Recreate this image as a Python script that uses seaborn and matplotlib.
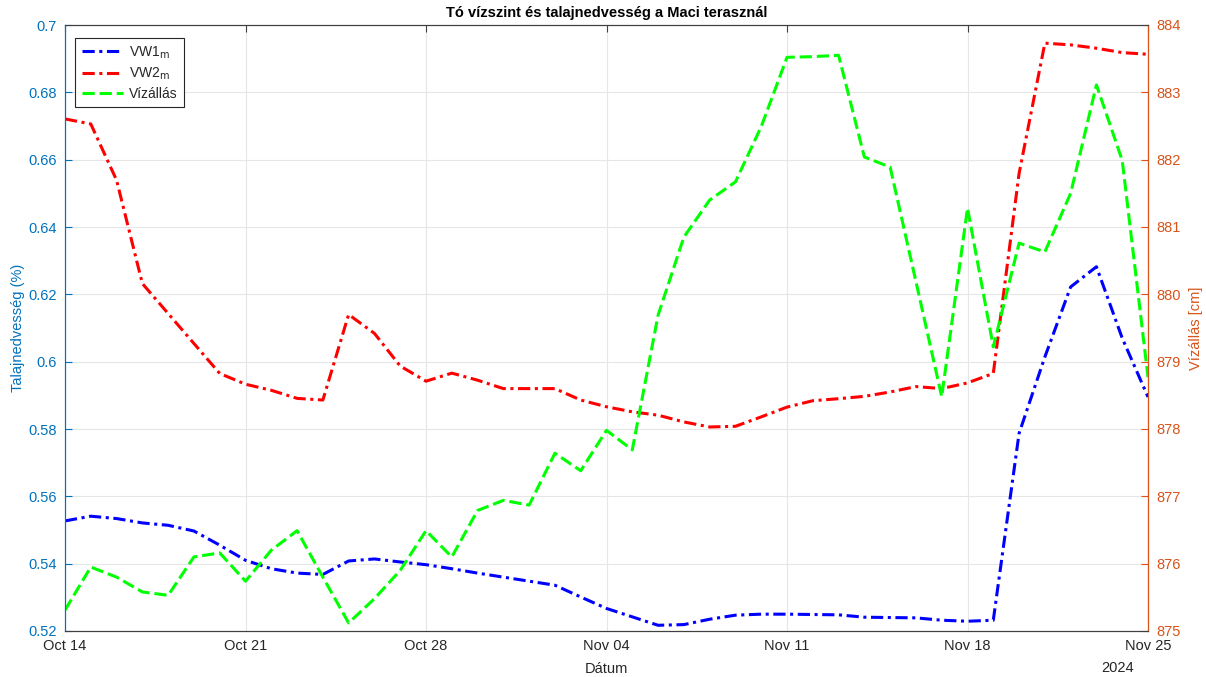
import numpy as np
import pandas as pd
import matplotlib
matplotlib.use("Agg")
import matplotlib.pyplot as plt
import matplotlib.dates as mdates
import seaborn as sns

# ---- data ----
start_date = "2024-10-14"
n_days = 43
vw1_m = [0.5527, 0.5541, 0.5534, 0.5521, 0.5514, 0.5497, 0.5455, 0.5410, 0.5385, 0.5372,
         0.5368, 0.5408, 0.5414, 0.5405, 0.5397, 0.5385, 0.5372, 0.5360, 0.5348, 0.5336,
         0.5301, 0.5267, 0.5242, 0.5217, 0.5219, 0.5235, 0.5247, 0.5250, 0.5250, 0.5249,
         0.5248, 0.5241, 0.5240, 0.5239, 0.5232, 0.5229, 0.5232, 0.5787, 0.6014, 0.6222,
         0.6282, 0.6070, 0.5895]
vw2_m = [0.6721, 0.6706, 0.6539, 0.6232, 0.6143, 0.6054, 0.5965, 0.5933, 0.5915, 0.5891,
         0.5886, 0.6140, 0.6084, 0.5987, 0.5942, 0.5966, 0.5945, 0.5920, 0.5920, 0.5920,
         0.5886, 0.5866, 0.5851, 0.5841, 0.5821, 0.5806, 0.5808, 0.5836, 0.5865, 0.5884,
         0.5890, 0.5897, 0.5910, 0.5926, 0.5920, 0.5937, 0.5965, 0.6559, 0.6946, 0.6941,
         0.6931, 0.6918, 0.6913]
vizallas = [875.31, 875.95, 875.80, 875.58, 875.53, 876.10, 876.16, 875.74, 876.20, 876.49,
            875.80, 875.12, 875.48, 875.90, 876.49, 876.10, 876.79, 876.94, 876.87, 877.64,
            877.38, 877.98, 877.69, 879.69, 880.85, 881.40, 881.67, 882.49, 883.52, 883.53,
            883.55, 882.04, 881.89, 880.19, 878.48, 881.28, 879.22, 880.76, 880.63, 881.50,
            883.11, 881.99, 878.77]
left_ticks = [0.52, 0.54, 0.56, 0.58, 0.60, 0.62, 0.64, 0.66, 0.68, 0.70]
left_ticklabels = ["0.52", "0.54", "0.56", "0.58", "0.6", "0.62", "0.64", "0.66", "0.68", "0.7"]
right_ticks = [875, 876, 877, 878, 879, 880, 881, 882, 883, 884]
x_tick_dates = ["2024-10-14", "2024-10-21", "2024-10-28", "2024-11-04",
                "2024-11-11", "2024-11-18", "2024-11-25"]

dates = pd.date_range(start_date, periods=n_days, freq="D")
df = pd.DataFrame({"Dátum": dates, "VW1": vw1_m, "VW2": vw2_m, "Vízállás": vizallas})

# ---- style ----
sns.set_style("white")
plt.rcParams["font.family"] = ["Liberation Sans", "DejaVu Sans"]
plt.rcParams["axes.unicode_minus"] = False

C_LEFT = "#0072BD"
C_RIGHT = "#D95319"
C_AX = "#404040"
FS = 10.5

fig = plt.figure(figsize=(12.06, 6.77), dpi=100)
ax = fig.add_axes([65 / 1206, 1 - 631 / 677, (1148 - 65) / 1206, (631 - 25) / 677])
ax2 = ax.twinx()

dashdot = (0, (4, 1.5, 1, 1.5))
dashed = (0, (4, 1.6))

sns.lineplot(data=df, x="Dátum", y="VW1", ax=ax, color="#0000FF", linewidth=2.2,
             linestyle=dashdot, label="VW1$_{\\rm m}$", legend=False)
sns.lineplot(data=df, x="Dátum", y="VW2", ax=ax, color="#FF0000", linewidth=2.2,
             linestyle=dashdot, label="VW2$_{\\rm m}$", legend=False)
sns.lineplot(data=df, x="Dátum", y="Vízállás", ax=ax2, color="#00FF00", linewidth=2.2,
             linestyle=dashed, label="Vízállás", legend=False)

# axes limits
ax.set_xlim(dates[0], dates[-1])
ax.set_ylim(0.52, 0.70)
ax2.set_ylim(875, 884)

ax.set_yticks(left_ticks)
ax.set_yticklabels(left_ticklabels)
ax2.set_yticks(right_ticks)
ax.set_xticks(pd.to_datetime(x_tick_dates))
ax.xaxis.set_major_formatter(mdates.DateFormatter("%b %d"))

# grid
ax.grid(True, color="#e6e6e6", linewidth=0.8)
ax.set_axisbelow(True)

# ticks
ax.tick_params(axis="y", colors=C_LEFT, direction="in", length=5, labelsize=FS, pad=6)
ax.tick_params(axis="x", colors=C_AX, direction="in", length=5, labelsize=FS,
               top=True, pad=6, labelcolor="#262626")
ax2.tick_params(axis="y", colors=C_RIGHT, direction="in", length=5, labelsize=FS, pad=6)
ax2.tick_params(axis="x", top=False, bottom=False)

for s in ["top", "bottom"]:
    ax.spines[s].set_color(C_AX)
    ax.spines[s].set_linewidth(0.8)
    ax2.spines[s].set_color(C_AX)
ax.spines["left"].set_color(C_LEFT)
ax2.spines["left"].set_color(C_LEFT)
ax2.spines["right"].set_color(C_RIGHT)
for s in ax2.spines.values():
    s.set_linewidth(0.8)

ax.set_xlabel("Dátum", fontsize=FS, color="#262626", labelpad=6)
ax.set_ylabel("Talajnedvesség (%)", fontsize=FS, color=C_LEFT, labelpad=2)
ax2.set_ylabel("Vízállás [cm]", fontsize=FS, color=C_RIGHT, rotation=90, labelpad=6)
ax.set_title("Tó vízszint és talajnedvesség a Maci terasznál", fontsize=FS,
             fontweight="bold", color="black", pad=6)

# year annotation
ax.text(0.9865, -0.0615, "2024", transform=ax.transAxes, ha="right", va="center",
        fontsize=FS, color="#262626")

# legend
h1, l1 = ax.get_legend_handles_labels()
h2, l2 = ax2.get_legend_handles_labels()
leg = ax2.legend(h1 + h2, l1 + l2, loc="upper left", bbox_to_anchor=(0.0095, 0.9785),
                 borderaxespad=0, fontsize=10, frameon=True, fancybox=False,
                 edgecolor="#262626", framealpha=1, handlelength=3.0, borderpad=0.45,
                 labelspacing=0.35, handletextpad=0.4)
leg.get_frame().set_linewidth(0.8)

fig.savefig("out.png", dpi=100)
